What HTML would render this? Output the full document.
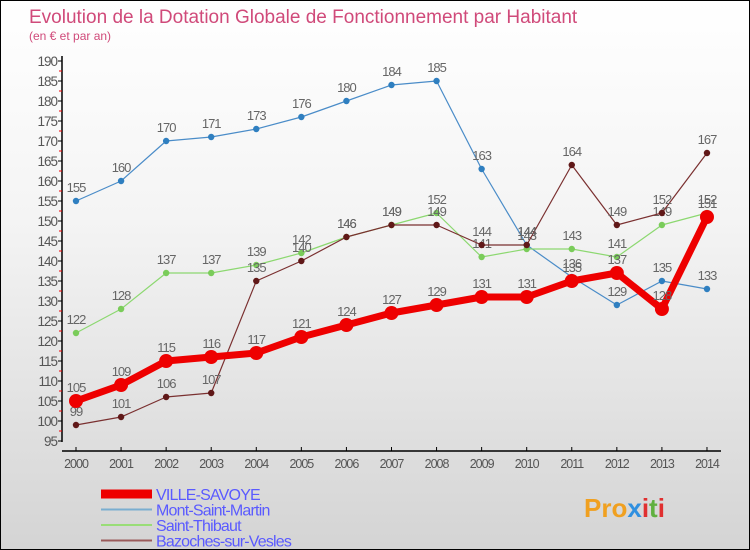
<!DOCTYPE html>
<html><head><meta charset="utf-8"><style>
body{margin:0}
#c{width:750px;height:550px;position:relative;box-sizing:border-box;border:1px solid #000;background:linear-gradient(#fff,#f4f4f4 40%,#d4d4d4);font-family:"Liberation Sans",sans-serif;overflow:hidden}
</style></head><body>
<div id="c">
<svg id="s" width="750" height="550" style="position:absolute;left:0;top:0">
<text x="28" y="22" font-size="19" fill="#d04a7a">Evolution de la Dotation Globale de Fonctionnement par Habitant</text>
<text x="28" y="39" font-size="12" fill="#d04a7a">(en € et par an)</text>
<g id="axes"></g><g id="series"></g><g id="legend"></g>
<text x="583" y="516" font-size="26" font-weight="bold" fill="#f0a020">Pro<tspan fill="#3090e0">x</tspan><tspan fill="#e03030">i</tspan><tspan fill="#60b040">t</tspan><tspan fill="#e03030">i</tspan></text>
</svg>
</div>
<script>
const years=[2000,2001,2002,2003,2004,2005,2006,2007,2008,2009,2010,2011,2012,2013,2014];
const yTicks=[95,100,105,110,115,120,125,130,135,140,145,150,155,160,165,170,175,180,185,190];
const names=["VILLE-SAVOYE","Mont-Saint-Martin","Saint-Thibaut","Bazoches-sur-Vesles"];
const villeSavoye=[105,109,115,116,117,121,124,127,129,131,131,135,137,128,151];
const montSaintMartin=[155,160,170,171,173,176,180,184,185,163,144,136,129,135,133];
const saintThibaut=[122,128,137,137,139,142,146,149,152,141,143,143,141,149,152];
const bazoches=[99,101,106,107,135,140,146,149,149,144,144,164,149,152,167];
const NS="http://www.w3.org/2000/svg";
const X=y=>75+(y-2000)*45.07;
const Y=v=>440-(v-95)*4;
function mk(p,t,a){const e=document.createElementNS(NS,t);for(const k in a)e.setAttribute(k,a[k]);p.appendChild(e);return e;}
const ax=document.getElementById('axes');
const yl=mk(ax,'line',{x1:61,y1:55,x2:61,y2:441,stroke:'#000','stroke-width':1.5});


const xl=mk(ax,'line',{x1:61,y1:450,x2:720,y2:450,stroke:'#000','stroke-width':1.5});


yTicks.forEach(v=>{
  mk(ax,'line',{x1:57,y1:Y(v),x2:61,y2:Y(v),stroke:'#000'});
  if(v<190)mk(ax,'line',{x1:58,y1:Y(v+2.5),x2:61,y2:Y(v+2.5),stroke:'#e00'});
  const t=mk(ax,'text',{x:56,y:Y(v)+5,'font-size':13.5,'text-anchor':'end',fill:'#555','letter-spacing':-1});
  t.textContent=v;
  
  
});
years.forEach(y=>{
  mk(ax,'line',{x1:X(y),y1:446,x2:X(y),y2:450,stroke:'#000'});
  const t=mk(ax,'text',{x:X(y),y:467,'font-size':12.5,'text-anchor':'middle',fill:'#555','letter-spacing':-1});
  t.textContent=y;
  
  
});
const se=document.getElementById('series');
const cfg=[[montSaintMartin,'#4a8cc8','#2f7fc0',1.2,3.2],[saintThibaut,'#8cd870','#7acc5a',1.2,3.2],[bazoches,'#7a3030','#601818',1.2,3.2],[villeSavoye,'#ee0000','#ee0000',7,7]];
cfg.forEach((c,i)=>{
  const [d,lc,pc,w,r]=c;
  const g=mk(se,'g',{});
  
  
  const pl=mk(g,'polyline',{points:d.map((v,j)=>X(years[j])+','+Y(v)).join(' '),fill:'none',stroke:lc,'stroke-width':w,'stroke-linejoin':'round'});
  
  
  d.forEach((v,j)=>{
    const p=mk(g,'circle',{cx:X(years[j]),cy:Y(v),r:r,fill:pc});
    
    
    const t=mk(g,'text',{x:X(years[j]),y:Y(v)-9,'font-size':13,'text-anchor':'middle',fill:'#666','letter-spacing':-1});
    t.textContent=v;
    
    
  });
});
const lg=document.getElementById('legend');
const lcfg=[['#ee0000',9],['#7aaed0',2],['#99dd77',2],['#9a5a5a',2]];
names.forEach((n,i)=>{
  const y=493+i*15.5;
  const g=mk(lg,'g',{});
  
  
  mk(g,'line',{x1:100,y1:y,x2:151,y2:y,stroke:lcfg[i][0],'stroke-width':lcfg[i][1]});
  const t=mk(g,'text',{x:155,y:y+6,'font-size':16,fill:'#5a5aff','letter-spacing':-0.8});
  t.textContent=n;
});
</script>
</body></html>
